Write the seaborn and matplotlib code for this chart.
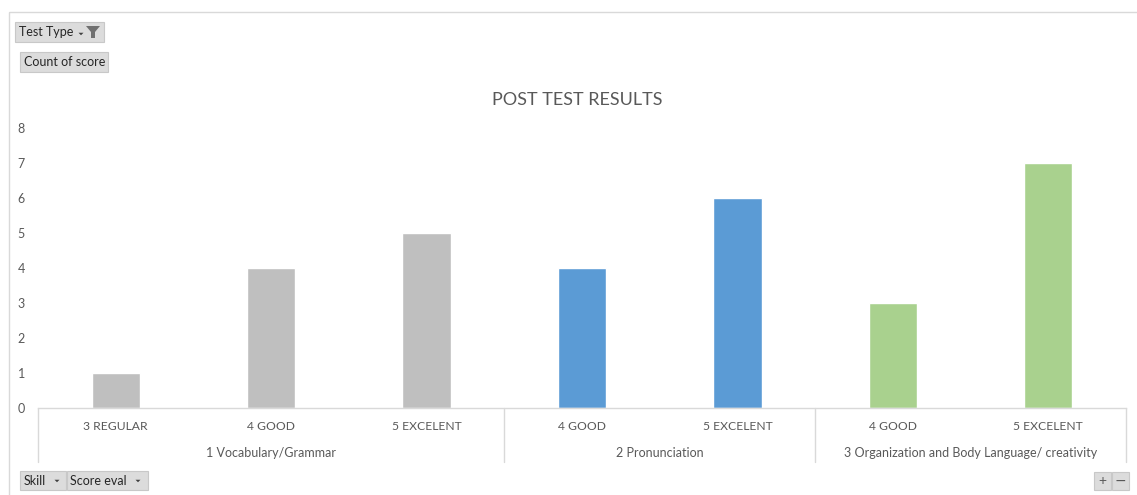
import matplotlib
matplotlib.use("Agg")
import matplotlib.pyplot as plt
from matplotlib.patches import Rectangle, Polygon
import seaborn as sns
import pandas as pd

# ---- data ----
skills = ["1 Vocabulary/Grammar"] * 3 + ["2 Pronunciation"] * 2 + \
         ["3 Organization and Body Language/ creativity"] * 2
score_eval = ["3 REGULAR", "4 GOOD", "5 EXCELENT", "4 GOOD", "5 EXCELENT", "4 GOOD", "5 EXCELENT"]
counts = [1, 4, 5, 4, 6, 3, 7]
skill_order = ["1 Vocabulary/Grammar", "2 Pronunciation",
               "3 Organization and Body Language/ creativity"]
skill_colors = ["#BFBFBF", "#5B9BD5", "#A9D18E"]
title = "POST TEST RESULTS"
yticks = list(range(0, 9))

df = pd.DataFrame({"skill": skills, "eval": score_eval, "count": counts})
df["key"] = [f"{i}|{e}" for i, e in enumerate(df["eval"])]

sns.set_theme(style="white")
plt.rcParams["font.family"] = ["Lato", "DejaVu Sans"]

W, H = 1137, 495
fig = plt.figure(figsize=(W / 100, H / 100), dpi=100)
fig.patch.set_facecolor("white")

x0, x1, ybot, ytop = 38, 1126, 408, 128
ax = fig.add_axes([x0 / W, 1 - ybot / H, (x1 - x0) / W, (ybot - ytop) / H])
ax.set_facecolor("none")

sns.barplot(data=df, x="key", y="count", hue="skill", hue_order=skill_order,
            palette=skill_colors, width=0.31, dodge=False, legend=False,
            saturation=1, ax=ax)

txt = "#595959"
ax.set_xlim(-0.5, len(counts) - 0.5)
ax.set_ylim(0, 8)
ax.set_yticks(yticks)
ax.set_yticklabels([str(v) for v in yticks], color=txt, fontsize=9)
ax.set_xticks(range(len(counts)))
ax.set_xticklabels(score_eval, color=txt, fontsize=8.7)
ax.tick_params(axis="x", length=0, pad=9.5)
ax.tick_params(axis="y", length=0, pad=9.5)
ax.set_xlabel("")
ax.set_ylabel("")
for s in ["top", "right", "left"]:
    ax.spines[s].set_visible(False)
ax.spines["bottom"].set_color("#D9D9D9")
ax.spines["bottom"].set_linewidth(1)
ax.grid(False)

# group separators and labels
trans = ax.get_xaxis_transform()
sep_depth = -(462 - ybot) / (ybot - ytop)
bounds = [-0.5]
start = 0
groups = []
for sk in skill_order:
    n = skills.count(sk)
    groups.append((sk, start, start + n - 1))
    start += n
    bounds.append(start - 0.5)
for b in bounds:
    ax.plot([b, b], [0, sep_depth], color="#D9D9D9", lw=1, transform=trans, clip_on=False)
for sk, a, b in groups:
    ax.text((a + b) / 2, -(453 - ybot) / (ybot - ytop), sk, transform=trans,
            ha="center", va="center", color=txt, fontsize=9)

# title
fig.text(577 / W, 1 - 100 / H, title, ha="center", va="center", color=txt, fontsize=13)

# overlay for pivot-chart chrome
ov = fig.add_axes([0, 0, 1, 1])
ov.set_xlim(0, W)
ov.set_ylim(H, 0)
ov.axis("off")
ov.set_facecolor("none")
ov.add_patch(Rectangle((9, 12), W + 20, H + 20, fill=False, ec="#D9D9D9", lw=1))

def button(x, y, w, h):
    ov.add_patch(Rectangle((x, y), w, h, fc="#DCDCDC", ec="#C8C8C8", lw=0.8))

def tri(cx, cy, s=3):
    ov.add_patch(Polygon([[cx - s, cy - s / 2], [cx + s, cy - s / 2], [cx, cy + s / 2]],
                         closed=True, fc="#404040", ec="none"))

button(15, 22, 89, 20)
ov.text(19, 32, "Test Type", va="center", ha="left", fontsize=9, color="#262626")
tri(81, 34, 2.5)
ov.add_patch(Polygon([[86, 26], [100, 26], [95, 32], [95, 38], [91, 38], [91, 32]],
                     closed=True, fc="#707070", ec="none"))

button(20, 52, 88, 20)
ov.text(24, 62, "Count of score", va="center", ha="left", fontsize=9, color="#262626")

button(20, 471, 46, 19)
ov.text(24, 481, "Skill", va="center", ha="left", fontsize=9, color="#262626")
tri(57, 481, 2.5)
button(67, 471, 81, 19)
ov.text(70, 481, "Score eval", va="center", ha="left", fontsize=9, color="#262626")
tri(138, 481, 2.5)

button(1094, 472, 17, 18)
button(1112, 472, 17, 18)
ov.text(1102.5, 481, "+", va="center", ha="center", fontsize=10, color="#595959")
ov.text(1120.5, 481, "\u2212", va="center", ha="center", fontsize=10, color="#595959",
        family=["DejaVu Sans"])

fig.savefig("out.png", dpi=100, facecolor="white")
